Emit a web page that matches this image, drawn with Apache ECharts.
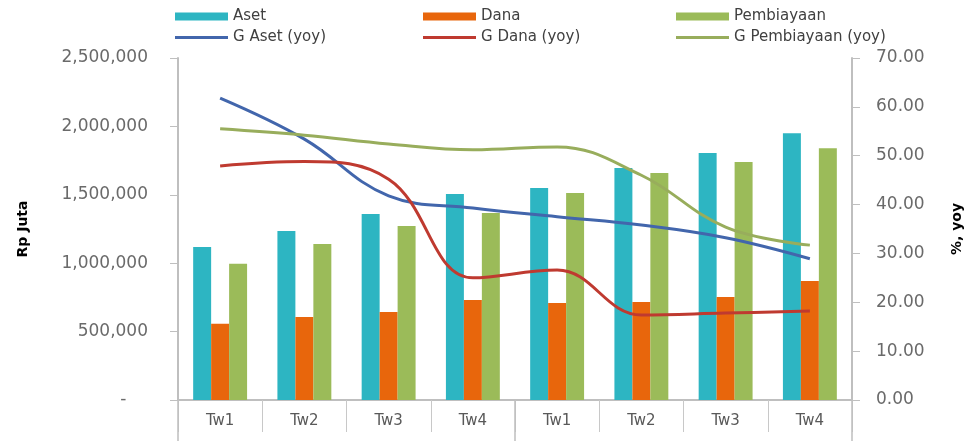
<!DOCTYPE html>
<html>
<head>
<meta charset="utf-8">
<script src="https://cdn.jsdelivr.net/npm/echarts@6/dist/echarts.min.js"></script>
<style>
html,body{margin:0;padding:0;background:#fff;}
#c{width:969px;height:441px;}
</style>
</head>
<body>
<div id="c"></div>
<script>
var categories = ['Tw1','Tw2','Tw3','Tw4','Tw1','Tw2','Tw3','Tw4'];
var aset = [1118000, 1235000, 1360000, 1506000, 1550000, 1696000, 1806000, 1950000];
var dana = [558000, 607000, 643000, 731000, 709000, 716000, 753000, 870000];
var pembiayaan = [996000, 1140000, 1272000, 1367000, 1513000, 1660000, 1740000, 1840000];
var gAset = [61.8, 53.4, 41.8, 39.3, 37.5, 35.8, 33.2, 28.9];
var gDana = [47.9, 48.8, 45.2, 25.0, 26.6, 17.4, 17.8, 18.2];
var gPembiayaan = [55.5, 54.2, 52.4, 51.2, 51.8, 46.0, 35.4, 31.7];
var leftTicks = [0, 500000, 1000000, 1500000, 2000000, 2500000];
var rightTicks = [0, 10, 20, 30, 40, 50, 60, 70];

var FONT = 'DejaVu Sans';
var chart = echarts.init(document.getElementById('c'));

function fmtNum(v){
  if (v === 0) return '-    ';
  return String(Math.round(v)).replace(/\B(?=(\d{3})+(?!\d))/g, ',');
}
function leg(name, left, top, h){
  return {
    data: [name], left: left, top: top, itemWidth: 53, itemHeight: h, itemGap: 0,
    padding: 0, icon: 'rect',
    textStyle: {fontFamily: FONT, fontSize: 15, color: '#404040'}
  };
}

chart.setOption({
  animation: false,
  backgroundColor: '#ffffff',
  legend: [
    leg('Aset', 175, 9, 8), leg('Dana', 423, 9, 8), leg('Pembiayaan', 676, 9, 8),
    leg('G Aset (yoy)', 175, 30, 3), leg('G Dana (yoy)', 423, 30, 3), leg('G Pembiayaan (yoy)', 676, 30, 3)
  ],
  grid: {left: 178, right: 117, top: 58, bottom: 41, containLabel: false, outerBoundsMode: 'none'},
  xAxis: [{
    type: 'category',
    data: categories,
    axisLine: {lineStyle: {color: '#bfbfbf', width: 2}},
    axisTick: {show: true, interval: 0, length: 32, lineStyle: {color: '#c8c8c8', width: 1}},
    axisLabel: {fontFamily: FONT, fontSize: 15, color: '#595959', margin: 14}
  }, {
    type: 'category',
    position: 'bottom',
    data: ['', ''],
    axisLine: {show: false},
    axisTick: {show: true, interval: 0, length: 42, lineStyle: {color: '#bfbfbf', width: 1.5}},
    axisLabel: {show: false}
  }],
  yAxis: [{
    type: 'value',
    min: 0, max: 2500000, interval: 500000,
    name: 'Rp Juta', nameLocation: 'middle', nameRotate: 90, nameGap: 148,
    nameTextStyle: {fontFamily: FONT, fontSize: 14, fontWeight: 'bold', color: '#000'},
    axisLine: {show: true, lineStyle: {color: '#bfbfbf', width: 2}},
    axisTick: {show: true, length: 8, lineStyle: {color: '#bfbfbf'}},
    splitLine: {show: false},
    axisLabel: {fontFamily: FONT, fontSize: 17, color: '#6a6a6a', margin: 30, formatter: fmtNum}
  }, {
    type: 'value',
    min: 0, max: 70, interval: 10,
    name: '%, yoy', nameLocation: 'middle', nameRotate: 90, nameGap: 98,
    nameTextStyle: {fontFamily: FONT, fontSize: 14, fontWeight: 'bold', color: '#000'},
    axisLine: {show: true, lineStyle: {color: '#bfbfbf', width: 2}},
    axisTick: {show: true, length: 8, lineStyle: {color: '#bfbfbf'}},
    splitLine: {show: false},
    axisLabel: {fontFamily: FONT, fontSize: 17, color: '#6a6a6a', margin: 24,
      formatter: function(v){ return v.toFixed(2); }}
  }],
  series: [
    {name: 'Aset', type: 'bar', data: aset, barGap: '0%', barCategoryGap: '36%', itemStyle: {color: '#2db5c2'}},
    {name: 'Dana', type: 'bar', data: dana, itemStyle: {color: '#e8660c'}},
    {name: 'Pembiayaan', type: 'bar', data: pembiayaan, itemStyle: {color: '#9bbb59'}},
    {name: 'G Aset (yoy)', type: 'line', yAxisIndex: 1, data: gAset, smooth: 0.4, symbol: 'none',
      lineStyle: {color: '#4266ac', width: 3}, itemStyle: {color: '#4266ac'}},
    {name: 'G Dana (yoy)', type: 'line', yAxisIndex: 1, data: gDana, smooth: 0.4, symbol: 'none',
      lineStyle: {color: '#bf3a30', width: 3}, itemStyle: {color: '#bf3a30'}},
    {name: 'G Pembiayaan (yoy)', type: 'line', yAxisIndex: 1, data: gPembiayaan, smooth: 0.4, symbol: 'none',
      lineStyle: {color: '#98ad5c', width: 3}, itemStyle: {color: '#98ad5c'}}
  ]
});
</script>
</body>
</html>
